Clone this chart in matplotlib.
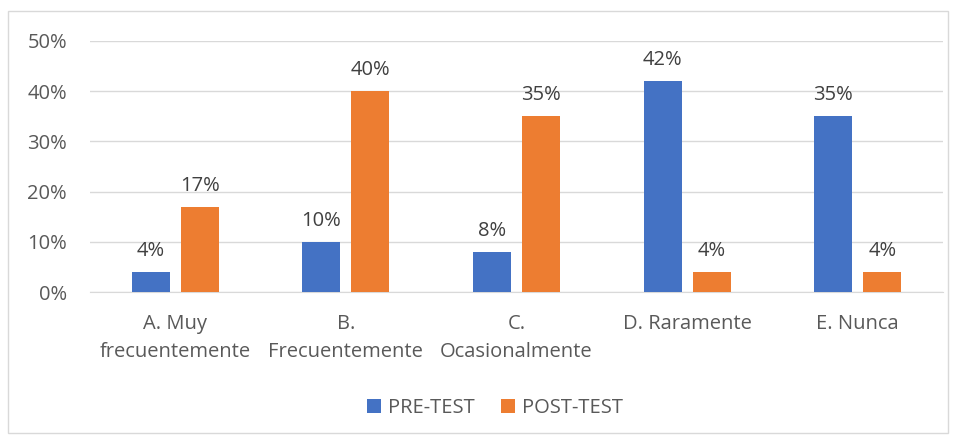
import matplotlib
matplotlib.use("Agg")
import matplotlib.pyplot as plt
import numpy as np
from matplotlib.patches import Rectangle

categories = ["A. Muy\nfrecuentemente", "B.\nFrecuentemente", "C.\nOcasionalmente", "D. Raramente", "E. Nunca"]
pre_test = [4, 10, 8, 42, 35]
post_test = [17, 40, 35, 4, 4]
yticks = [0, 10, 20, 30, 40, 50]
series_names = ["PRE-TEST", "POST-TEST"]

BLUE = "#4472C4"
ORANGE = "#ED7D31"
TXT = "#595959"
FONT = ["Open Sans", "DejaVu Sans"]
plt.rcParams['font.family'] = FONT
FS = 14.5

W, H = 961, 437
fig = plt.figure(figsize=(W/100, H/100), dpi=100)
fig.patches.append(Rectangle((8/W, 1 - 433/H), (948-8)/W, (433-11)/H, transform=fig.transFigure,
                             fill=False, edgecolor="#D9D9D9", linewidth=1.0))

ax = fig.add_axes([90/W, 1 - 292/H, (943-90)/W, (292-41)/H])
x = np.arange(len(categories))
bw = 0.223
off = 0.144
b1 = ax.bar(x - off, pre_test, bw, color=BLUE, label=series_names[0], zorder=3)
b2 = ax.bar(x + off, post_test, bw, color=ORANGE, label=series_names[1], zorder=3)
for bars, vals in ((b1, pre_test), (b2, post_test)):
    for r, v in zip(bars, vals):
        ax.annotate(f"{v}%", (r.get_x() + r.get_width()/2, v), xytext=(0, 8), textcoords="offset points",
                    ha="center", va="bottom", fontsize=FS, color="#404040")

ax.set_xlim(-0.5, len(categories) - 0.5)
ax.set_ylim(0, 50)
ax.set_yticks(yticks)
ax.set_yticklabels([f"{t}%" for t in yticks], fontsize=FS, color=TXT)
ax.set_xticks(x)
ax.set_xticklabels(categories, fontsize=FS, color=TXT, linespacing=1.55)
ax.tick_params(axis="y", length=0, pad=16.5)
ax.tick_params(axis="x", length=0, pad=15.5)
ax.grid(axis="y", color="#D9D9D9", linewidth=1.0, zorder=0)
for s in ["top", "right", "left"]:
    ax.spines[s].set_visible(False)
ax.spines["bottom"].set_color("#D9D9D9")

leg = fig.legend(handles=[b1, b2], labels=series_names, loc="center", bbox_to_anchor=(495/W, 1 - 408/H),
                 ncol=2, frameon=False, fontsize=FS, handlelength=0.7, handleheight=0.7,
                 columnspacing=1.3, handletextpad=0.35)
for t in leg.get_texts():
    t.set_color(TXT)

fig.savefig("out.png", dpi=100)
